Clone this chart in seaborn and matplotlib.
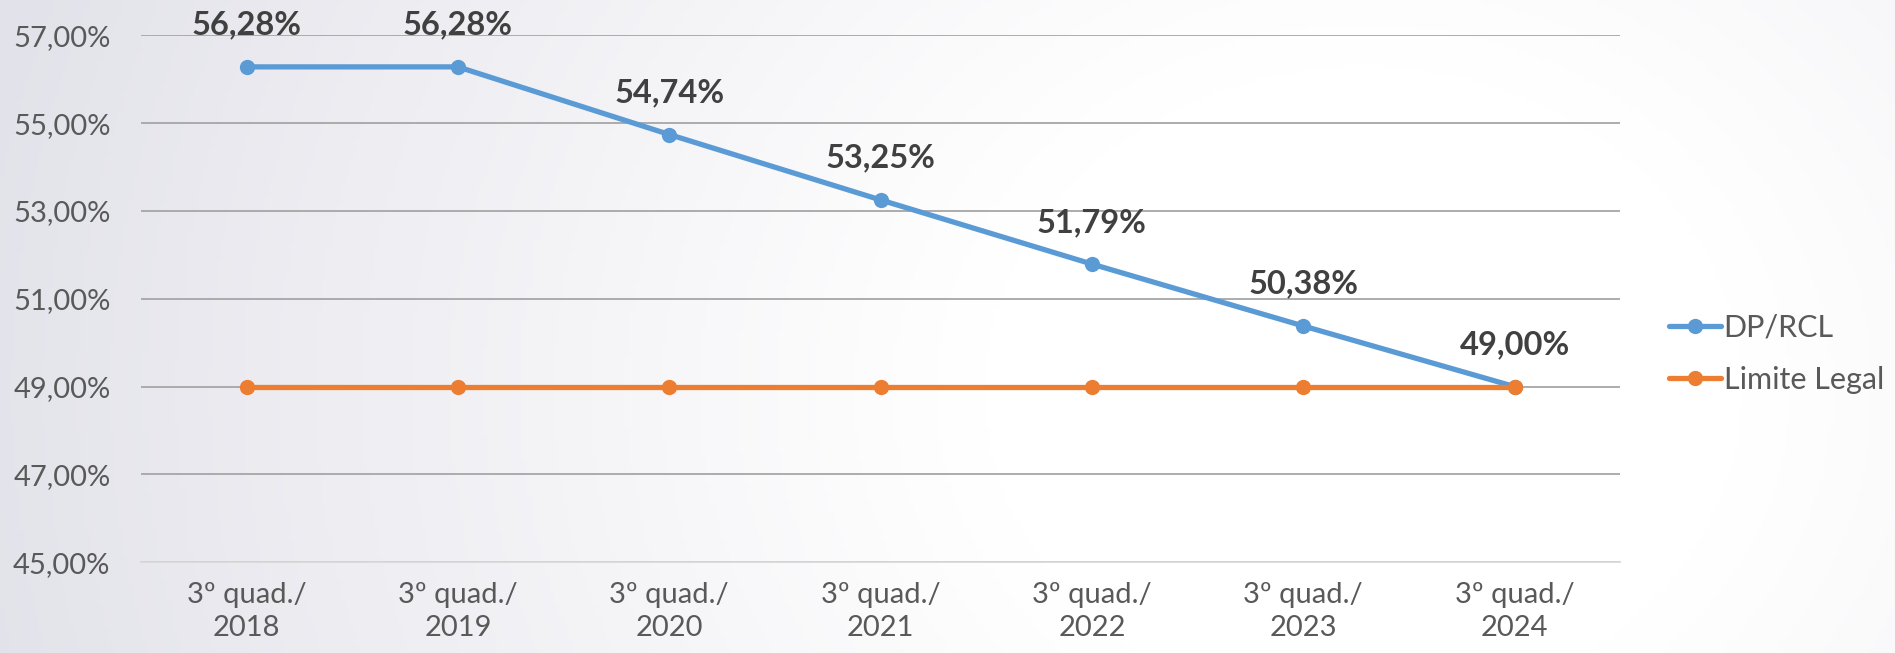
import numpy as np
import pandas as pd
import seaborn as sns
import matplotlib.pyplot as plt

periods = ["3º quad./\n2018", "3º quad./\n2019", "3º quad./\n2020", "3º quad./\n2021",
           "3º quad./\n2022", "3º quad./\n2023", "3º quad./\n2024"]
dp_rcl = [56.28, 56.28, 54.74, 53.25, 51.79, 50.38, 49.00]
limite_legal = [49.00, 49.00, 49.00, 49.00, 49.00, 49.00, 49.00]
y_ticks = [45, 47, 49, 51, 53, 55, 57]

sns.set_theme(style="white")
plt.rcParams['font.family'] = ['Lato', 'DejaVu Sans']

df = pd.DataFrame({
    "periodo": periods * 2,
    "valor": dp_rcl + limite_legal,
    "serie": ["DP/RCL"] * len(periods) + ["Limite Legal"] * len(periods),
})

fig = plt.figure(figsize=(18.95, 6.53), dpi=100)

# soft gray-blue background shading, strongest at the left edge
bg = fig.add_axes([0, 0, 1, 1], zorder=-10)
xx, yy = np.meshgrid(np.linspace(0, 1, 400), np.linspace(0, 1, 150))
d = np.hypot((xx - 0.72) * 1.5, (yy - 0.6) * 0.6)
shade = np.clip((d - 0.3) / 0.8, 0, 1) ** 1.1
base = np.array([1.0, 1.0, 1.0])
tint = np.array([0.89, 0.89, 0.92])
img = base + (tint - base) * shade[..., None]
bg.imshow(img, aspect="auto", extent=[0, 1, 0, 1])
bg.axis("off")

ax = fig.add_axes([0.0744, 0.139, 0.7806, 0.807])
ax.patch.set_alpha(0)

palette = {"DP/RCL": "#5B9BD5", "Limite Legal": "#ED7D31"}
sns.lineplot(data=df, x="periodo", y="valor", hue="serie", palette=palette,
             marker="o", markersize=11, markeredgewidth=0, linewidth=3.8,
             sort=False, ax=ax, zorder=3)

ax.set_xlim(-0.5, len(periods) - 0.5)
ax.set_ylim(45, 57)
ax.set_yticks(y_ticks)
ax.set_yticklabels([f"{v:.2f}%".replace(".", ",") for v in y_ticks])
ax.set_xlabel("")
ax.set_ylabel("")
ax.grid(axis="y", color="#A6A6A6", linewidth=1.3, zorder=0)
ax.grid(axis="x", visible=False)
for s in ["top", "right", "left"]:
    ax.spines[s].set_visible(False)
ax.spines["bottom"].set_color("#D9D9D9")
ax.spines["bottom"].set_linewidth(1.3)
ax.tick_params(axis="y", length=0, pad=22, labelsize=21, labelcolor="#595959")
ax.tick_params(axis="x", length=0, pad=14, labelsize=21, labelcolor="#595959")
for lbl in ax.get_xticklabels():
    lbl.set_linespacing(1.35)

for i, v in enumerate(dp_rcl):
    ax.annotate(f"{v:.2f}%".replace(".", ","), (i, v), xytext=(0, 30),
                textcoords="offset points", ha="center", va="center",
                fontsize=23.5, fontweight="bold", color="#404040", zorder=5)

handles, labels = ax.get_legend_handles_labels()
ax.legend(handles, labels, loc="center left", bbox_to_anchor=(0.866, 0.458),
          bbox_transform=fig.transFigure, frameon=False, fontsize=22,
          handlelength=1.7, handletextpad=0.1, labelspacing=0.8, labelcolor="#595959")

fig.savefig("out.png", dpi=100)
